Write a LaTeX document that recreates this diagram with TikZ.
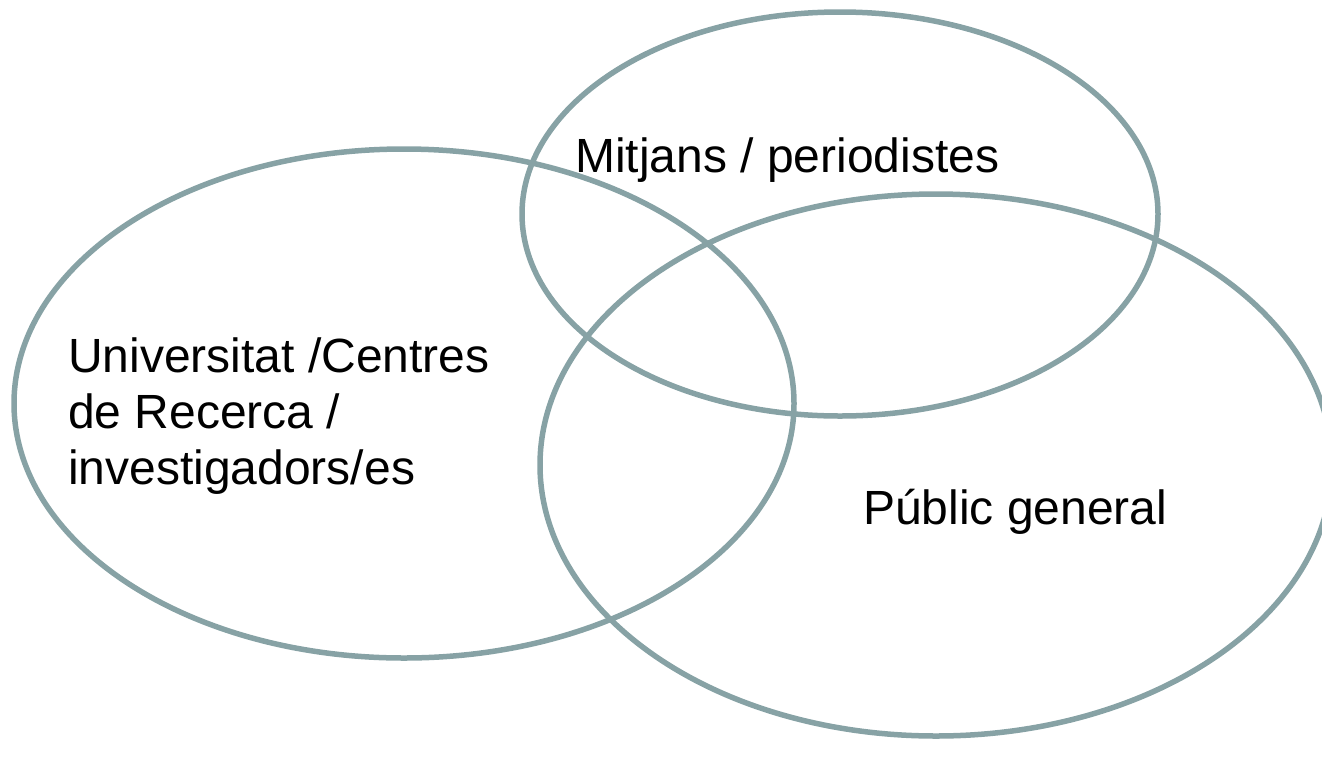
\documentclass[tikz,border=0pt]{standalone}
\usepackage{fontspec}
\setmainfont{Liberation Sans}
\definecolor{ringcol}{HTML}{87A2A5}
\tikzset{
  ring/.style={draw=ringcol, line width=5.5pt},
  lbl/.style={anchor=base west, inner sep=0pt, align=left, font=\fontsize{48}{56}\selectfont, text=black}
}
\begin{document}
\begin{tikzpicture}[x=1pt,y=-1pt]
\clip (0,0) rectangle (1322,764);
\draw[ring] (404,403.5) ellipse [x radius=390, y radius=254.5];
\draw[ring] (840,214) ellipse [x radius=318, y radius=202];
\draw[ring] (936,465) ellipse [x radius=396, y radius=271];
\node[lbl] (media) at (575,172) {Mitjans / periodistes};
\node[lbl] (univ) at (68,484) {Universitat /Centres\\de Recerca /\\investigadors/es};
\node[lbl] (public) at (863,524) {Públic general};
\end{tikzpicture}
\end{document}
